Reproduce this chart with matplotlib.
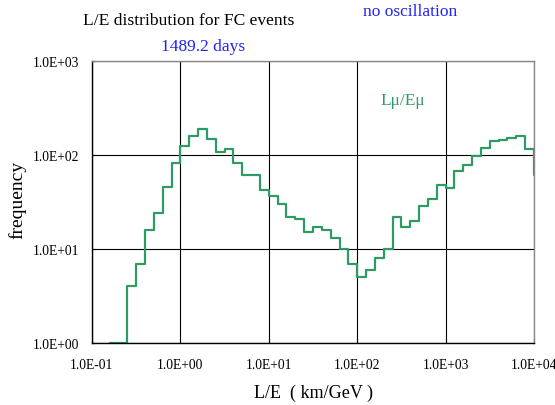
import numpy as np
import matplotlib.pyplot as plt
from matplotlib.ticker import FixedLocator, NullLocator

# ---------------------- Data ----------------------
# log10(L/E) bin edges: 10 bins per decade, from 10^-0.8 to 10^4.1
log_edges = np.arange(-8, 42) / 10.0
freq = [1, 1, 4, 7, 16, 24, 46, 82,
        125, 158, 189, 147, 108, 116, 82, 61, 62, 42,
        36.6, 30, 22, 21, 15, 17, 16, 13, 10, 7,
        5, 6, 8, 10, 22, 17, 20, 29, 34, 48,
        45, 68, 78, 97, 120, 140, 145, 150, 160, 115,
        61]
x_ticks = [1e-1, 1e0, 1e1, 1e2, 1e3, 1e4]
x_tick_labels = ["1.0E-01", "1.0E+00", "1.0E+01", "1.0E+02", "1.0E+03", "1.0E+04"]
y_ticks = [1e0, 1e1, 1e2, 1e3]
y_tick_labels = ["1.0E+00", "1.0E+01", "1.0E+02", "1.0E+03"]

edges = 10 ** log_edges
line_color = "#2e9b63"
blue = "#1f1fff"

plt.rcParams['font.family'] = ['Liberation Serif', 'DejaVu Serif']

W, H = 555, 406
fig = plt.figure(figsize=(W / 100, H / 100), dpi=100)
ax = fig.add_axes([92 / W, 1 - 344 / H, (534 - 92) / W, (344 - 62) / H])

# step histogram
y_vals = list(freq) + [freq[-1]]
ax.step(edges, y_vals, where="post", color=line_color, lw=1.6)

ax.set_xscale("log")
ax.set_yscale("log")
ax.set_xlim(1e-1, 1e4)
ax.set_ylim(1e0, 1e3)

ax.xaxis.set_major_locator(FixedLocator(x_ticks))
ax.yaxis.set_major_locator(FixedLocator(y_ticks))
ax.xaxis.set_minor_locator(NullLocator())
ax.yaxis.set_minor_locator(NullLocator())
ax.set_xticklabels(x_tick_labels)
ax.set_yticklabels(y_tick_labels)
ax.tick_params(axis="both", labelsize=9.8, direction="in", length=3, width=0.8)
ax.tick_params(axis="x", pad=11)
ax.tick_params(axis="y", pad=9)

ax.grid(True, which="major", color="black", lw=0.8)
for side in ["left", "bottom"]:
    ax.spines[side].set_color("black")
    ax.spines[side].set_linewidth(1.0)
for side in ["top", "right"]:
    ax.spines[side].set_color("#888888")
    ax.spines[side].set_linewidth(1.0)

ax.set_xlabel("L/E  ( km/GeV )", fontsize=13, va="center")
ax.xaxis.set_label_coords((313 - 92) / (534 - 92), -(393 - 344) / (344 - 62))
ax.set_ylabel("frequency", fontsize=14, va="center")
ax.yaxis.set_label_coords(-(92 - 17) / (534 - 92), (344 - 200) / (344 - 62))

fig.text(189 / W, 1 - 21 / H, "L/E distribution for FC events",
         fontsize=12.6, ha="center", va="center")
fig.text(203 / W, 1 - 47 / H, "1489.2 days",
         fontsize=12.5, ha="center", va="center", color=blue)
fig.text(410 / W, 1 - 12 / H, "no oscillation",
         fontsize=12.5, ha="center", va="center", color=blue)
fig.text(403 / W, 1 - 101 / H, "L\u03bc/E\u03bc",
         fontsize=12.5, ha="center", va="center", color=line_color)

plt.savefig("out.png", dpi=100)
